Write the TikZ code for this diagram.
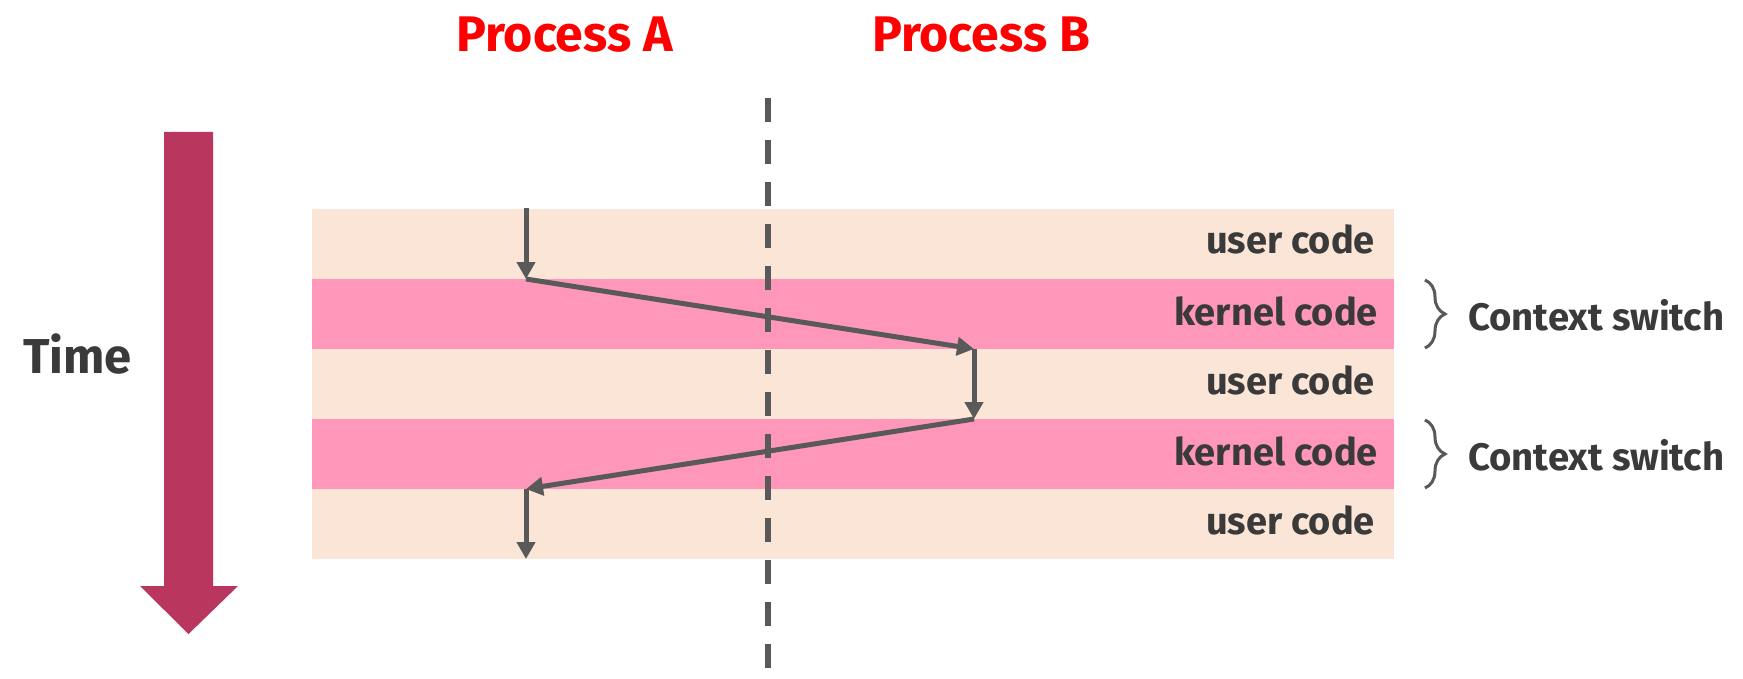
\documentclass[tikz,border=0pt]{standalone}
\usepackage{fontspec}
\setmainfont{Fira Sans}
\usetikzlibrary{arrows.meta,decorations.pathreplacing}
\definecolor{peach}{HTML}{FAE5D7}
\definecolor{pinkband}{HTML}{FE97B9}
\definecolor{timecol}{HTML}{B9365F}
\definecolor{arrgray}{HTML}{595959}
\definecolor{txtdark}{HTML}{3A3A3A}
\definecolor{procred}{HTML}{FF0000}
\tikzset{
  flow/.style={draw=arrgray, line width=5pt, -{Triangle[length=17pt,width=18pt]}},
  bandlabel/.style={inner sep=0pt, anchor=base east, text=txtdark, font=\bfseries\fontsize{38}{40}\selectfont},
  proclabel/.style={inner sep=0pt, anchor=base, text=procred, font=\bfseries\fontsize{50}{54}\selectfont},
  cslabel/.style={inner sep=0pt, anchor=base west, text=txtdark, font=\bfseries\fontsize{38.3}{42}\selectfont},
  bracestyle/.style={draw=arrgray, line width=3pt, decorate, decoration={brace, amplitude=20pt}},
}
\begin{document}
\begin{tikzpicture}[x=1pt, y=-1pt]
\useasboundingbox (0,0) rectangle (1743,679);
% bands
\fill[peach] (312,209) rectangle (1394,279);
\fill[pinkband] (312,279) rectangle (1394,349);
\fill[peach] (312,349) rectangle (1394,419);
\fill[pinkband] (312,419) rectangle (1394,489);
\fill[peach] (312,489) rectangle (1394,559);
% time arrow
\fill[timecol] (164,132) -- (213,132) -- (213,586) -- (238,586) -- (188.5,634) -- (140,586) -- (164,586) -- cycle;
\node[inner sep=0pt, anchor=base, text=txtdark, font=\bfseries\fontsize{49}{54}\selectfont] (time) at (77.5,373) {Time};
% process labels
\node[proclabel] (procA) at (564.5,52) {Process A};
\node[proclabel] (procB) at (981,52) {Process B};
% dashed separator
\coordinate (dtop) at (768,98);
\coordinate (dbot) at (768,679);
\draw[arrgray, line width=6pt, dash pattern=on 24pt off 18pt] (dtop) -- (dbot);
% band labels
\node[bandlabel] (u1) at (1375,254) {user code};
\node[bandlabel] (k1) at (1378,325) {kernel code};
\node[bandlabel] (u2) at (1375,394) {user code};
\node[bandlabel] (k2) at (1378,465) {kernel code};
\node[bandlabel] (u3) at (1375,534) {user code};
% flow
\coordinate (p0) at (526,208);
\coordinate (p1) at (526,279);
\coordinate (p2) at (974,349);
\coordinate (p3) at (974,419);
\coordinate (p4) at (526,489);
\coordinate (p5) at (526,559);
\draw[flow] (p0) -- (p1);
\draw[flow] (p1) -- (p2);
\draw[flow] (p2) -- (p3);
\draw[flow] (p3) -- (p4);
\draw[flow] (p4) -- (p5);
% braces
\coordinate (b1t) at (1425,280);
\coordinate (b1b) at (1425,348);
\coordinate (b2t) at (1425,420);
\coordinate (b2b) at (1425,488);
\draw[bracestyle] (b1t) -- (b1b);
\draw[bracestyle] (b2t) -- (b2b);
\node[cslabel] (cs1) at (1468,330) {Context switch};
\node[cslabel] (cs2) at (1468,470) {Context switch};
\end{tikzpicture}
\end{document}
